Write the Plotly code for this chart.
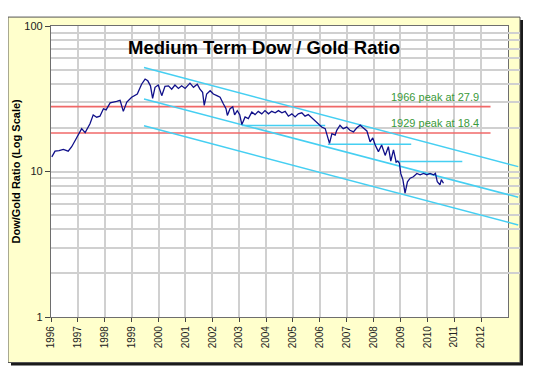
import math
import plotly.graph_objects as go

# ---------------- data ----------------
years = [1996.03, 1996.15, 1996.30, 1996.46, 1996.64, 1996.77, 1996.95, 1997.14, 1997.27, 1997.45,
         1997.57, 1997.70, 1997.82, 1997.95, 1998.05, 1998.20, 1998.44, 1998.57, 1998.69, 1998.82,
         1999.00, 1999.21, 1999.37, 1999.50, 1999.60, 1999.70, 1999.78, 1999.87, 1999.99, 2000.12,
         2000.24, 2000.37, 2000.49, 2000.61, 2000.74, 2000.86, 2000.99, 2001.17, 2001.30, 2001.44,
         2001.54, 2001.64, 2001.70, 2001.79, 2001.92, 2002.04, 2002.17, 2002.29, 2002.41, 2002.51,
         2002.56, 2002.66, 2002.76, 2002.83, 2002.93, 2003.02, 2003.10, 2003.22, 2003.34, 2003.47,
         2003.59, 2003.71, 2003.84, 2003.96, 2004.09, 2004.21, 2004.34, 2004.46, 2004.59, 2004.71,
         2004.83, 2004.96, 2005.08, 2005.20, 2005.33, 2005.45, 2005.57, 2005.70, 2005.82, 2005.95,
         2006.07, 2006.20, 2006.26, 2006.36, 2006.45, 2006.57, 2006.63, 2006.75, 2006.87, 2007.00,
         2007.12, 2007.25, 2007.37, 2007.50, 2007.62, 2007.75, 2007.87, 2007.97, 2008.06, 2008.18,
         2008.30, 2008.43, 2008.55, 2008.64, 2008.74, 2008.84, 2008.90, 2008.96, 2009.01, 2009.09,
         2009.17, 2009.26, 2009.36, 2009.48, 2009.61, 2009.73, 2009.86, 2009.98, 2010.10, 2010.23,
         2010.30, 2010.37, 2010.47, 2010.52, 2010.60]
ratio = [12.6, 13.8, 13.9, 14.2, 13.8, 14.8, 17.0, 19.7, 18.5, 21.3,
         24.5, 23.6, 24.0, 27.0, 26.5, 29.6, 30.3, 30.8, 25.9, 30.0,
         32.4, 34.1, 39.8, 43.2, 42.0, 38.8, 31.8, 37.9, 39.3, 33.2,
         38.5, 38.8, 36.8, 39.3, 37.2, 38.8, 37.2, 40.5, 37.9, 39.8,
         36.8, 35.0, 28.5, 34.1, 35.9, 34.1, 33.2, 32.4, 29.2, 27.0,
         24.3, 27.0, 27.8, 24.5, 26.2, 24.6, 21.0, 23.7, 23.1, 25.6,
         24.6, 25.9, 24.9, 26.2, 24.9, 25.9, 25.3, 26.2, 25.3, 25.9,
         24.0, 24.9, 23.7, 24.9, 25.3, 24.0, 24.6, 23.3, 22.4, 21.3,
         20.2, 19.7, 18.2, 15.6, 18.2, 17.8, 19.2, 20.8, 19.7, 20.2,
         19.2, 18.7, 19.9, 20.8, 19.9, 19.0, 16.0, 17.0, 15.2, 13.7,
         15.2, 12.9, 14.8, 11.8, 14.1, 11.6, 11.8, 11.4, 9.7, 8.8,
         7.1, 8.5, 9.0, 9.2, 9.7, 9.5, 9.7, 9.5, 9.7, 9.5,
         9.7, 8.5, 8.1, 8.8, 8.3]

channel_x = [1999.46, 2013.38]
channel_top = [51.8, 10.8]
channel_mid = [31.5, 6.65]
channel_bot = [20.6, 4.29]

support_levels = [20.7, 15.4, 11.7]
support_start = [2003.1, 2006.3, 2008.8]
support_end = [2006.2, 2009.4, 2011.3]

peak_labels = ["1966 peak at 27.9", "1929 peak at 18.4"]
peak_values = [27.9, 18.4]
peak_span = [1996, 2012.35]
major_line = 10

x_ticks = list(range(1996, 2013))
y_ticks = [1, 10, 100]
y_minor = [2, 3, 4, 5, 6, 7, 8, 9, 20, 30, 40, 50, 60, 70, 80, 90]
x_range = [1996, 2013]

# ---------------- layout geometry ----------------
# The page body adds an 8px offset, so the figure is sized to fill the rest of the window.
OFF = 8
WIN_W, WIN_H = 540, 378
W, H = WIN_W - OFF, WIN_H - OFF
PLOT_LEFT, PLOT_TOP, PLOT_BOTTOM, PLOT_RIGHT, FRAME_RIGHT = 51, 23, 317, 508, 520
L = PLOT_LEFT - OFF
T = PLOT_TOP - OFF
B = WIN_H - PLOT_BOTTOM
R = WIN_W - FRAME_RIGHT
area_w = FRAME_RIGHT - PLOT_LEFT
area_h = PLOT_BOTTOM - PLOT_TOP
main_dom = (PLOT_RIGHT - PLOT_LEFT) / area_w
px_per_year = (PLOT_RIGHT - PLOT_LEFT) / (x_range[1] - x_range[0])
x2_end = x_range[1] + (FRAME_RIGHT - PLOT_RIGHT) / px_per_year


def px(xp):
    return (xp - PLOT_LEFT) / area_w


def py(yp):
    return (PLOT_BOTTOM - yp) / area_h


FONT = "Arial, Liberation Sans, sans-serif"
GRID = "#D0D0D0"
CYAN = "#45CFF2"
RED = "#F06868"
NAVY = "#10108A"

fig = go.Figure()

# reference lines on main subplot
for v in peak_values:
    fig.add_trace(go.Scatter(x=peak_span, y=[v, v], mode="lines",
                             line=dict(color=RED, width=1.6), hoverinfo="skip", showlegend=False))
fig.add_trace(go.Scatter(x=x_range, y=[major_line, major_line], mode="lines",
                         line=dict(color="#505050", width=1.2), hoverinfo="skip", showlegend=False))

# channel lines (extend past plot edge -> x2 subplot)
for ys in (channel_top, channel_mid, channel_bot):
    fig.add_trace(go.Scatter(x=channel_x, y=ys, mode="lines", xaxis="x2", yaxis="y",
                             line=dict(color=CYAN, width=1.5), hoverinfo="skip", showlegend=False))
for lv, s, e in zip(support_levels, support_start, support_end):
    fig.add_trace(go.Scatter(x=[s, e], y=[lv, lv], mode="lines", xaxis="x2", yaxis="y",
                             line=dict(color=CYAN, width=1.5), hoverinfo="skip", showlegend=False))

fig.add_trace(go.Scatter(x=years, y=ratio, mode="lines", xaxis="x2", yaxis="y",
                         line=dict(color=NAVY, width=1.3), showlegend=False))

shapes = [
    dict(type="rect", xref="paper", yref="paper", x0=px(11), x1=px(523), y0=py(366), y1=py(17),
         fillcolor="#1A1A1A", line=dict(width=0), layer="below"),
    dict(type="rect", xref="paper", yref="paper", x0=px(8), x1=px(520), y0=py(363), y1=py(14),
         fillcolor="#FFFFCC", line=dict(color="#555555", width=1), layer="below"),
    dict(type="rect", xref="x", yref="paper", x0=x_range[0], x1=x_range[1], y0=0, y1=1,
         fillcolor="white", line=dict(width=0), layer="below"),
]

annotations = [
    dict(text="<b>Medium Term Dow / Gold Ratio</b>", xref="paper", yref="paper",
         x=px(264), y=py(45), xanchor="center", yanchor="middle", showarrow=False,
         font=dict(family=FONT, size=18.5, color="black")),
    dict(text="<b>Dow/Gold Ratio (Log Scale)</b>", xref="paper", yref="paper",
         x=px(15), y=0.5, xanchor="center", yanchor="middle", textangle=-90, showarrow=False,
         font=dict(family=FONT, size=11, color="black")),
]
for lab, v in zip(peak_labels, peak_values):
    annotations.append(dict(text=lab, xref="x", yref="y", x=2012, y=math.log10(v),
                            xanchor="right", yanchor="bottom", yshift=2, showarrow=False,
                            font=dict(family=FONT, size=11, color="#3A9A3A")))

fig.update_layout(
    width=W, height=H,
    margin=dict(l=L, r=R, t=T, b=B, pad=0),
    paper_bgcolor="white",
    plot_bgcolor="rgba(0,0,0,0)",
    font=dict(family=FONT, size=11, color="#222222"),
    showlegend=False,
    shapes=shapes,
    annotations=annotations,
    xaxis=dict(domain=[0, main_dom], range=x_range, tickmode="array", tickvals=x_ticks,
               tickangle=-90, ticks="outside", ticklen=4, tickcolor="#444444",
               tickfont=dict(family=FONT, size=10, color="#222222"),
               showgrid=True, gridcolor=GRID, gridwidth=1.5, zeroline=False,
               showline=True, linecolor="#6E6E6E", linewidth=1.2, mirror=True, anchor="y"),
    xaxis2=dict(domain=[0, 1], range=[x_range[0], x2_end], visible=False, anchor="y",
                showgrid=False, zeroline=False),
    yaxis=dict(type="log", range=[0, 2], tickmode="array", tickvals=y_ticks,
               ticktext=[str(v) for v in y_ticks], ticks="outside", ticklen=5, tickcolor="#444444",
               tickfont=dict(family=FONT, size=11, color="#222222"),
               showgrid=True, gridcolor=GRID, gridwidth=1.5, zeroline=False,
               showline=True, linecolor="#6E6E6E", linewidth=1.2, mirror=True, anchor="x",
               minor=dict(tickmode="array", tickvals=y_minor, showgrid=True,
                          gridcolor=GRID, gridwidth=1.5, ticks="")),
)

fig.write_html("out.html")
